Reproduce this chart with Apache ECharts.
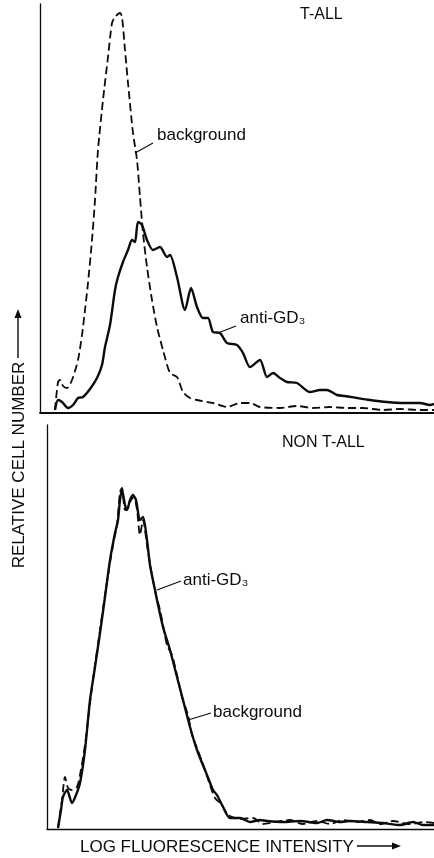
<!DOCTYPE html>
<html>
<head>
<meta charset="utf-8">
<style>html,body{margin:0;padding:0;background:#fff;}#c{width:434px;height:858px;}</style>
<script src="https://cdn.jsdelivr.net/npm/echarts@6/dist/echarts.min.js"></script>
</head>
<body>
<div id="c"></div>
<script>
// x = fluorescence channel (arbitrary log units), y = relative cell number (arbitrary units)
const panelTitles = ['T-ALL', 'NON T-ALL'];
const seriesNames = ['background', 'anti-GD₃'];

const tallBackground = [[15,3],[18,31],[20,33],[23,27],[27,25],[32,33],[38,53],[42,78],[45,103],[48,130],[52,173],[55,213],[58,263],[63,313],[68,356],[72,390],[75,396],[80,400],[82,396],[85,363],[88,330],[93,280],[97,253],[100,216],[103,180],[107,146],[112,113],[117,86],[123,63],[130,40],[137,36],[143,21],[150,15],[157,13],[173,10],[187,6],[200,10],[210,10],[220,6],[240,5],[257,7],[273,5],[290,6],[307,5],[323,5],[343,3],[360,4],[380,3],[394,3]];

const tallAntiGD3 = [[15,3],[18,13],[22,11],[28,5],[33,8],[38,15],[43,16],[50,24],[57,35],[62,48],[65,66],[70,88],[75,123],[78,136],[83,151],[88,163],[92,173],[95,171],[98,191],[102,188],[107,173],[113,163],[120,166],[127,156],[130,158],[137,136],[145,103],[151,125],[157,106],[163,95],[168,95],[173,81],[180,80],[187,70],[197,68],[203,60],[210,46],[220,53],[227,36],[233,40],[240,35],[247,31],[257,30],[270,21],[280,23],[287,23],[297,18],[305,17],[317,15],[330,13],[347,11],[363,10],[380,10],[390,8],[394,9]];

const nonTallAntiGD3 = [[11,1],[14,19],[16,32],[20,39],[25,26],[29,34],[33,46],[38,79],[43,129],[48,162],[53,196],[58,232],[63,269],[68,296],[71,309],[73,329],[75,339],[78,324],[80,319],[83,329],[86,334],[89,329],[93,309],[96,312],[100,289],[103,264],[108,239],[110,229],[116,202],[123,179],[130,152],[136,129],[143,102],[150,79],[160,54],[166,39],[170,34],[176,22],[183,11],[193,11],[203,7],[213,9],[220,8],[236,7],[253,8],[270,6],[280,9],[293,7],[303,8],[320,7],[336,6],[353,4],[366,7],[376,4],[387,4]];

const nonTallBackground = [[11,1],[15,29],[18,52],[21,41],[25,39],[30,42],[33,54],[38,84],[43,126],[48,164],[53,199],[58,234],[63,266],[67,289],[70,304],[73,337],[75,341],[78,319],[81,321],[84,329],[87,332],[90,319],[93,294],[96,309],[100,284],[104,259],[109,234],[113,219],[116,204],[120,184],[125,174],[130,154],[135,132],[141,114],[145,94],[150,81],[158,59],[163,44],[168,31],[175,24],[181,14],[193,10],[206,11],[216,5],[228,7],[243,9],[256,5],[270,8],[283,5],[296,9],[310,7],[323,9],[333,5],[346,8],[363,5],[378,7],[387,6]];

const chart = echarts.init(document.getElementById('c'), null, {renderer:'canvas'});
const FONT = 'Liberation Sans, Arial, Helvetica, sans-serif';
const INK = '#0c0c0c';

function xAx(idx, max){
  return {gridIndex: idx, type:'value', min:0, max:max,
    axisLine:{show:true, onZero:false, lineStyle:{color:INK, width: idx===0?1.8:1.4}},
    axisTick:{show:false}, axisLabel:{show:false}, splitLine:{show:false}};
}
function yAx(idx, max){
  return {gridIndex: idx, type:'value', min:0, max:max,
    axisLine:{show:true, onZero:false, lineStyle:{color:INK, width:1.3}},
    axisTick:{show:false}, axisLabel:{show:false}, splitLine:{show:false}};
}
function line(name, data, idx, dashed){
  return {name:name, type:'line', xAxisIndex:idx, yAxisIndex:idx, data:data,
    showSymbol:false, smooth:0.25, silent:true, animation:false,
    lineStyle:{color:INK, width: dashed?1.8:2.4, type: dashed?[8,4]:'solid'}};
}
function seg(x1,y1,x2,y2,w){
  return {type:'line', silent:true, shape:{x1:x1,y1:y1,x2:x2,y2:y2}, style:{stroke:INK, lineWidth:w||1.2}};
}
function label(x, y, s, size){
  return {type:'text', x:x, y:y, silent:true, style:{text:s, fill:INK, font:(size||17)+'px '+FONT, textVerticalAlign:'middle'}};
}

chart.setOption({
  animation:false,
  backgroundColor:'#fff',
  grid:[
    {left:40, top:4, width:394, height:409, containLabel:false},
    {left:47, top:425, width:387, height:404, containLabel:false}
  ],
  xAxis:[xAx(0,394), xAx(1,387)],
  yAxis:[yAx(0,409), yAx(1,404)],
  series:[
    line(seriesNames[0], tallBackground, 0, true),
    line(seriesNames[1], tallAntiGD3, 0, false),
    line(seriesNames[0], nonTallBackground, 1, true),
    line(seriesNames[1], nonTallAntiGD3, 1, false)
  ],
  graphic:[
    label(300, 15, panelTitles[0], 16),
    label(282, 443, panelTitles[1], 16),
    label(157, 135, seriesNames[0]),
    seg(135,153,153,143),
    label(240, 318, seriesNames[1]),
    seg(218,333,236,326),
    label(183, 580, seriesNames[1]),
    seg(157,590,181,581),
    label(213, 712, seriesNames[0]),
    seg(188,720,211,713),
    label(80, 847, 'LOG FLUORESCENCE INTENSITY'),
    seg(357,846,395,846,1.4),
    {type:'polygon', silent:true, shape:{points:[[392,842.5],[401,846],[392,849.5]]}, style:{fill:INK}},
    {type:'text', x:19, y:465, rotation:Math.PI/2, silent:true, style:{text:'RELATIVE CELL NUMBER', fill:INK, font:'17px '+FONT, textAlign:'center', textVerticalAlign:'middle'}},
    seg(18,358,18,316,1.4),
    {type:'polygon', silent:true, shape:{points:[[14.5,318],[18,309],[21.5,318]]}, style:{fill:INK}}
  ]
});
</script>
</body>
</html>
